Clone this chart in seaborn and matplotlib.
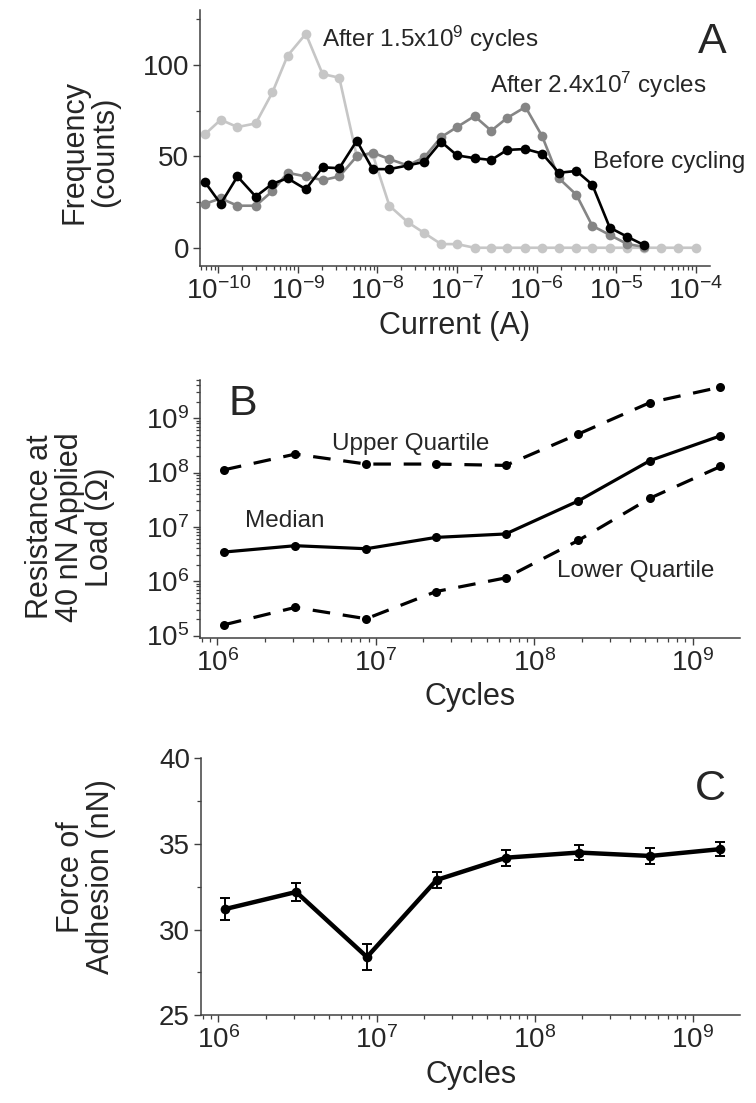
import matplotlib
matplotlib.use("Agg")
import numpy as np
import pandas as pd
import seaborn as sns
import matplotlib.pyplot as plt
from matplotlib.ticker import MultipleLocator, LogLocator, NullFormatter

# ---------------- data ----------------
# Panel A: current histogram (bin centres, log10 of current in A)
current_log10 = [-10.17, -9.97, -9.76, -9.53, -9.32, -9.13, -8.90, -8.69, -8.48, -8.26,
                 -8.06, -7.85, -7.62, -7.41, -7.20, -7.00, -6.78, -6.57, -6.37, -6.14,
                 -5.93, -5.72, -5.50, -5.30, -5.08, -4.86, -4.65, -4.44, -4.22, -4.00]
after_1p5e9 = [62, 70, 66, 68, 85, 105, 117, 95, 93, 50,
               51, 23, 14, 8, 2, 2, 0, 0, 0, 0,
               0, 0, 0, 0, 0, 0, 0, 0, 0, 0]
after_2p4e7 = [24, 27, 23, 23, 31, 41, 39, 37, 39, 50,
               52, 48.5, 45, 49.5, 60.5, 66, 72, 64, 71, 77,
               61, 38, 29, 12, 7, 2, 0.5]
before_cycling = [36, 24, 39, 28, 35, 38, 32, 44, 43.5, 58.5,
                  43, 43, 45, 47, 58, 50.5, 49, 48, 53.5, 54,
                  51.5, 41, 42, 34.5, 11, 6, 1.5]

# Panels B and C
cycles = [1.1e6, 3.1e6, 8.7e6, 2.4e7, 6.6e7, 1.9e8, 5.4e8, 1.5e9]
res_upper = [1.12e8, 2.18e8, 1.43e8, 1.43e8, 1.35e8, 5.1e8, 1.94e9, 3.72e9]
res_median = [3.44e6, 4.5e6, 3.96e6, 6.4e6, 7.4e6, 3.0e7, 1.66e8, 4.73e8]
res_lower = [1.58e5, 3.3e5, 2.04e5, 6.46e5, 1.15e6, 5.62e6, 3.38e7, 1.29e8]
adhesion = [31.2, 32.2, 28.4, 32.9, 34.2, 34.5, 34.3, 34.7]
adhesion_err = [0.66, 0.55, 0.76, 0.47, 0.47, 0.46, 0.44, 0.42]

# ---------------- style ----------------
sns.set_style("ticks")
plt.rcParams["font.family"] = ["Liberation Sans", "DejaVu Sans"]
plt.rcParams["mathtext.default"] = "regular"

TICK_FS = 20
LABEL_FS = 22
ANN_FS = 17.5
LETTER_FS = 31
SPINE_C = "#404040"

fig = plt.figure(figsize=(7.56, 11.03), dpi=100)
axA = fig.add_axes([0.2646, 0.7588, 0.6746, 0.2321])
axB = fig.add_axes([0.2646, 0.4218, 0.7143, 0.2336])
axC = fig.add_axes([0.2660, 0.0795, 0.7129, 0.2330])


def style_axis(ax):
    sns.despine(ax=ax)
    for s in ("left", "bottom"):
        ax.spines[s].set_linewidth(1.1)
        ax.spines[s].set_color(SPINE_C)
    ax.tick_params(which="major", direction="out", length=5, width=1.0,
                   color=SPINE_C, labelsize=TICK_FS, pad=3)
    ax.tick_params(which="minor", direction="out", length=3, width=0.9,
                   color=SPINE_C)


# ---------------- Panel A ----------------
cur = 10.0 ** np.array(current_log10)
dfA = pd.DataFrame({"current": cur, "light": after_1p5e9})
sns.lineplot(data=dfA, x="current", y="light", ax=axA, color="#c6c6c6",
             marker="o", markersize=7, markeredgewidth=0, linewidth=1.9,
             estimator=None, sort=False, zorder=2)
n_mid = len(after_2p4e7)
sns.lineplot(x=cur[:n_mid], y=after_2p4e7, ax=axA, color="#858585",
             marker="o", markersize=7, markeredgewidth=0, linewidth=1.9,
             estimator=None, sort=False, zorder=3)
n_blk = len(before_cycling)
sns.lineplot(x=cur[:n_blk], y=before_cycling, ax=axA, color="#000000",
             marker="o", markersize=7, markeredgewidth=0, linewidth=1.9,
             estimator=None, sort=False, zorder=4)
axA.set_xscale("log")
axA.set_xlim(10 ** -10.23, 10 ** -3.82)
axA.set_ylim(-10, 130)
axA.yaxis.set_major_locator(MultipleLocator(50))
axA.yaxis.set_minor_locator(MultipleLocator(25))
axA.xaxis.set_major_locator(LogLocator(base=10, numticks=20))
axA.xaxis.set_minor_locator(LogLocator(base=10, subs=np.arange(2, 10), numticks=20))
axA.xaxis.set_minor_formatter(NullFormatter())
style_axis(axA)
axA.set_xlabel("Current (A)", fontsize=LABEL_FS, labelpad=4)
axA.set_ylabel("Frequency\n(counts)", fontsize=LABEL_FS, va="center",
               ha="center", linespacing=1.0)
axA.yaxis.set_label_coords(-0.216, 0.445)
axA.text(0.239, 0.855, "After 1.5x10$^{9}$ cycles", transform=axA.transAxes,
         fontsize=ANN_FS, ha="left", va="baseline")
axA.text(0.569, 0.675, "After 2.4x10$^{7}$ cycles", transform=axA.transAxes,
         fontsize=ANN_FS, ha="left", va="baseline")
axA.text(0.771, 0.382, "Before cycling", transform=axA.transAxes,
         fontsize=ANN_FS, ha="left", va="baseline")
axA.text(1.033, 0.831, "A", transform=axA.transAxes, fontsize=LETTER_FS,
         ha="right", va="baseline", clip_on=False)

# ---------------- Panel B ----------------
dfB = pd.DataFrame({"cycles": cycles, "upper": res_upper,
                    "median": res_median, "lower": res_lower})
dash = (0, (5.5, 4))
sns.lineplot(data=dfB, x="cycles", y="upper", ax=axB, color="k", marker="o",
             markersize=6.5, markeredgewidth=0, linewidth=2.3, linestyle=dash,
             estimator=None, sort=False)
sns.lineplot(data=dfB, x="cycles", y="median", ax=axB, color="k", marker="o",
             markersize=6.5, markeredgewidth=0, linewidth=2.3,
             estimator=None, sort=False)
sns.lineplot(data=dfB, x="cycles", y="lower", ax=axB, color="k", marker="o",
             markersize=6.5, markeredgewidth=0, linewidth=2.3, linestyle=dash,
             estimator=None, sort=False)
axB.set_xscale("log")
axB.set_yscale("log")
axB.set_xlim(10 ** 5.89, 10 ** 9.30)
axB.set_ylim(10 ** 4.96, 10 ** 9.70)
for axis in (axB.xaxis, axB.yaxis):
    axis.set_major_locator(LogLocator(base=10, numticks=20))
    axis.set_minor_locator(LogLocator(base=10, subs=np.arange(2, 10), numticks=20))
    axis.set_minor_formatter(NullFormatter())
style_axis(axB)
axB.set_xlabel("Cycles", fontsize=LABEL_FS, labelpad=4)
axB.set_ylabel("Resistance at\n40 nN Applied\nLoad (\u03a9)", fontsize=LABEL_FS,
               va="center", ha="center", linespacing=1.0)
axB.yaxis.set_label_coords(-0.241, 0.43)
axB.text(0.244, 0.728, "Upper Quartile", transform=axB.transAxes,
         fontsize=ANN_FS, ha="left", va="baseline")
axB.text(0.083, 0.431, "Median", transform=axB.transAxes,
         fontsize=ANN_FS, ha="left", va="baseline")
axB.text(0.661, 0.237, "Lower Quartile", transform=axB.transAxes,
         fontsize=ANN_FS, ha="left", va="baseline")
axB.text(0.052, 0.864, "B", transform=axB.transAxes, fontsize=LETTER_FS,
         ha="left", va="baseline")

# ---------------- Panel C ----------------
dfC = pd.DataFrame({"cycles": cycles, "force": adhesion, "err": adhesion_err})
sns.lineplot(data=dfC, x="cycles", y="force", ax=axC, color="k", marker="o",
             markersize=7, markeredgewidth=0, linewidth=3.2,
             estimator=None, sort=False, zorder=3)
axC.errorbar(dfC["cycles"], dfC["force"], yerr=dfC["err"], fmt="none",
             ecolor="k", elinewidth=1.4, capsize=3.5, capthick=1.4, zorder=4)
axC.set_xscale("log")
axC.set_xlim(10 ** 5.89, 10 ** 9.30)
axC.set_ylim(25, 40)
axC.yaxis.set_major_locator(MultipleLocator(5))
axC.yaxis.set_minor_locator(MultipleLocator(2.5))
axC.xaxis.set_major_locator(LogLocator(base=10, numticks=20))
axC.xaxis.set_minor_locator(LogLocator(base=10, subs=np.arange(2, 10), numticks=20))
axC.xaxis.set_minor_formatter(NullFormatter())
style_axis(axC)
axC.set_xlabel("Cycles", fontsize=LABEL_FS, labelpad=4)
axC.set_ylabel("Force of\nAdhesion (nN)", fontsize=LABEL_FS, va="center",
               ha="center", linespacing=1.0)
axC.yaxis.set_label_coords(-0.214, 0.538)
axC.text(0.974, 0.838, "C", transform=axC.transAxes, fontsize=LETTER_FS,
         ha="right", va="baseline")

fig.savefig("out.png", dpi=100)
